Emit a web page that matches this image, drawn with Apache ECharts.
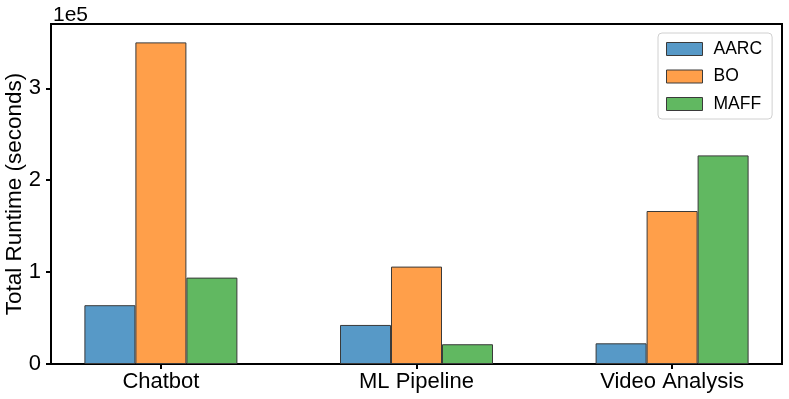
<!DOCTYPE html>
<html>
<head>
<meta charset="utf-8">
<script src="https://cdn.jsdelivr.net/npm/echarts@6/dist/echarts.min.js"></script>
<style>html,body{margin:0;padding:0;background:#fff;}#c{width:789px;height:399px;}</style>
</head>
<body>
<div id="c"></div>
<script>
const categories = ['Chatbot', 'ML Pipeline', 'Video Analysis'];
const aarc = [64000, 42500, 22500];
const bo = [350000, 106000, 166500];
const maff = [94000, 21500, 227000];
const yTicks = [0, 100000, 200000, 300000];

const font = 'Liberation Sans, Arial, sans-serif';
const chart = echarts.init(document.getElementById('c'), null, {renderer: 'canvas'});
function mk(name, vals, color) {
  return {
    name: name, type: 'bar', barWidth: 51, barGap: '0%',
    data: vals.map((v, i) => [i, v]),
    itemStyle: {color: color, borderColor: '#3a3a3a', borderWidth: 1},
    emphasis: {disabled: true}
  };
}
chart.setOption({
  animation: false,
  title: {text: '1e5', left: 48, top: 0, textStyle: {fontFamily: font, fontSize: 21, fontWeight: 'normal', color: '#000'}},
  grid: {left: 51, right: 7, top: 24, bottom: 35, outerBoundsMode: 'none', containLabel: false,
    show: true, borderColor: '#000', borderWidth: 2, backgroundColor: 'transparent'},
  legend: {
    orient: 'vertical', left: 658, top: 33, icon: 'rect',
    itemWidth: 36, itemHeight: 13, itemGap: 9.5,
    padding: [7, 10, 6, 8],
    borderColor: '#d0d0d0', borderWidth: 1, borderRadius: 4,
    backgroundColor: 'rgba(255,255,255,0.8)',
    textStyle: {fontFamily: font, fontSize: 17.5, color: '#000', lineHeight: 18, padding: [0, 0, 0, 6]},
    itemStyle: {borderColor: '#3a3a3a', borderWidth: 1},
    data: ['AARC', 'BO', 'MAFF']
  },
  xAxis: {
    type: 'value', min: -0.43, max: 2.43,
    axisLine: {show: true, onZero: false, lineStyle: {color: '#000', width: 2}},
    axisTick: {show: true, customValues: [0, 1, 2], length: 5, lineStyle: {color: '#000', width: 2}},
    axisLabel: {show: true, customValues: [0, 1, 2], margin: 7, fontFamily: font, fontSize: 22, color: '#000',
      formatter: v => categories[Math.round(v)] || ''},
    splitLine: {show: false}
  },
  yAxis: {
    type: 'value', min: 0, max: 370000, interval: 100000,
    name: 'Total Runtime (seconds)', nameLocation: 'middle', nameGap: 25, nameMoveOverlap: false,
    nameTextStyle: {fontFamily: font, fontSize: 22.5, color: '#000'},
    axisLine: {show: true, onZero: false, lineStyle: {color: '#000', width: 2}},
    axisTick: {show: true, length: 5, lineStyle: {color: '#000', width: 2}},
    axisLabel: {margin: 10, fontFamily: font, fontSize: 22, color: '#000',
      showMaxLabel: false,
      formatter: v => (yTicks.indexOf(v) >= 0 ? String(v / 100000) : '')},
    splitLine: {show: false}
  },
  series: [
    mk('AARC', aarc, '#5799c7'),
    mk('BO', bo, '#ff9f4a'),
    mk('MAFF', maff, '#61b861')
  ]
});
</script>
</body>
</html>
